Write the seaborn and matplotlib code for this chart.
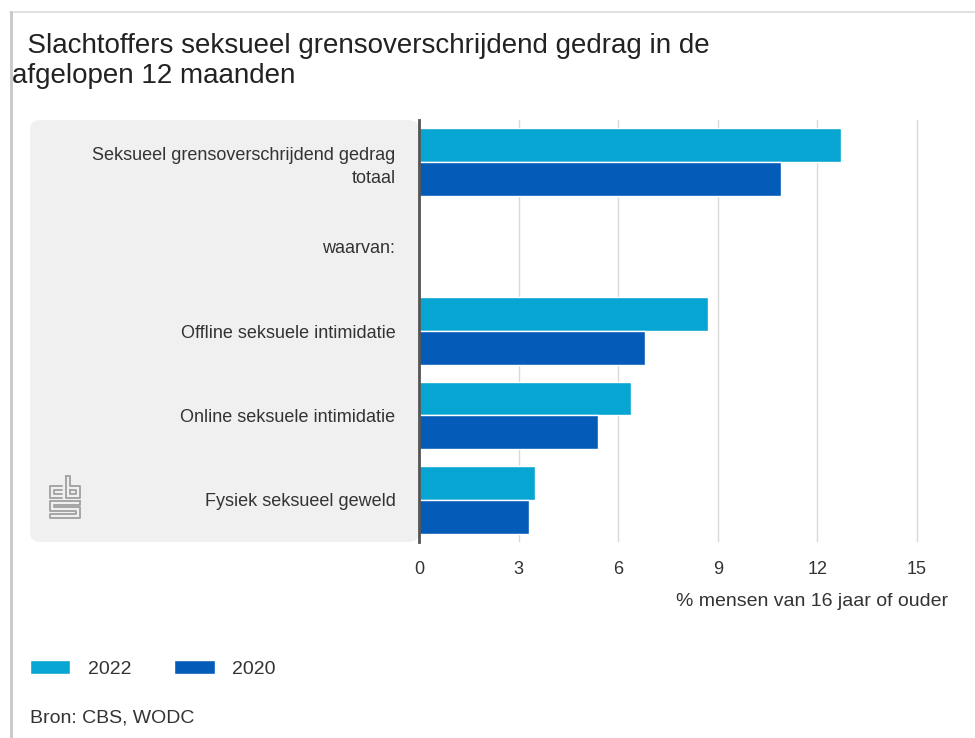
import numpy as np
import pandas as pd
import seaborn as sns
import matplotlib
matplotlib.use("Agg")
import matplotlib.pyplot as plt
from matplotlib.patches import FancyBboxPatch
from matplotlib.lines import Line2D

categories = ["Seksueel grensoverschrijdend gedrag\ntotaal", "waarvan:",
              "Offline seksuele intimidatie", "Online seksuele intimidatie",
              "Fysiek seksueel geweld"]
years = ["2022", "2020"]
values_2022 = [12.7, np.nan, 8.7, 6.4, 3.5]
values_2020 = [10.9, np.nan, 6.8, 5.4, 3.3]
xticks = [0, 3, 6, 9, 12, 15]
colors = {"2022": "#07a5d1", "2020": "#055bb8"}

df = pd.DataFrame({
    "categorie": categories * 2,
    "jaar": ["2022"] * len(categories) + ["2020"] * len(categories),
    "waarde": values_2022 + values_2020,
})

sns.set_theme(style="white")
plt.rcParams["font.family"] = ["Liberation Sans", "DejaVu Sans"]
txt = "#333333"

W, H = 975, 738
fig = plt.figure(figsize=(W / 100, H / 100), dpi=100)

def fx(px):
    return px / W

def fy(py):
    return 1 - py / H

# screenshot frame
fig.add_artist(Line2D([fx(10), fx(975)], [fy(12), fy(12)], color="#dcdcdc", lw=1.2))
fig.add_artist(Line2D([fx(11), fx(11)], [fy(12), fy(738)], color="#c8c8c8", lw=2))

# gray panel
panel = FancyBboxPatch((fx(30), fy(542)), fx(419) - fx(30), fy(120) - fy(542),
                       boxstyle="round,pad=0,rounding_size=0.012",
                       transform=fig.transFigure, facecolor="#f0f0f0",
                       edgecolor="none", zorder=-1)
fig.add_artist(panel)

ax = fig.add_axes([fx(419), fy(542), fx(975) - fx(419), fy(120) - fy(542)])
ax.set_facecolor("none")
sns.barplot(data=df, y="categorie", x="waarde", hue="jaar", order=categories,
            hue_order=years, palette=colors, orient="h", width=0.8, saturation=1,
            edgecolor="white", linewidth=1, ax=ax, legend=True)

ax.set_xlim(0, 16.75)
ax.set_ylim(4.5, -0.5)
ax.set_xticks(xticks)
ax.set_xticklabels([str(t) for t in xticks], fontsize=13, color=txt)
ax.tick_params(axis="x", length=0, pad=14)
ax.tick_params(axis="y", length=0, pad=17, labelsize=13, labelcolor=txt)
for lab in ax.get_yticklabels():
    lab.set_multialignment("right")
    lab.set_linespacing(1.45)
ax.grid(axis="x", color="#d9d9d9", lw=1)
ax.set_axisbelow(True)
for s in ["top", "right", "bottom"]:
    ax.spines[s].set_visible(False)
ax.spines["left"].set_color("#555555")
ax.spines["left"].set_linewidth(2)
ax.spines["left"].set_zorder(5)
ax.set_ylabel("")
ax.set_xlabel("")

fig.text(fx(948), fy(602), "% mensen van 16 jaar of ouder", ha="right", va="center",
         fontsize=14, color=txt)

# legend
handles, labels = ax.get_legend_handles_labels()
ax.get_legend().remove()
fig.legend(handles, labels, loc="center left", bbox_to_anchor=(fx(12), fy(669)),
           ncol=2, frameon=False, fontsize=14, handlelength=2.1, handleheight=0.75,
           handletextpad=0.9, columnspacing=2.2, labelcolor=txt)

fig.text(fx(30), fy(718), "Bron: CBS, WODC", ha="left", va="center", fontsize=14, color=txt)

# title
fig.text(fx(12), fy(61), "  Slachtoffers seksueel grensoverschrijdend gedrag in de\nafgelopen 12 maanden",
         ha="left", va="center", fontsize=20, color="#222222", linespacing=1.2)

# cbs logo (outline drawing)
lc = "#a0a0a0"
segs = [
    [(62, 486), (50, 486), (50, 498), (62, 498)],
    [(62, 490), (54, 490), (54, 494), (62, 494)],
    [(66, 476), (66, 498), (80, 498), (80, 486), (70, 486), (70, 476), (66, 476)],
    [(70, 490), (76, 490), (76, 494), (70, 494), (70, 490)],
    [(80, 501), (50, 501), (50, 511), (76, 511), (76, 514), (50, 514), (50, 518),
     (80, 518), (80, 507), (54, 507), (54, 505), (80, 505), (80, 501)],
]
for seg in segs:
    xs = [fx(p[0]) for p in seg]
    ys = [fy(p[1]) for p in seg]
    fig.add_artist(Line2D(xs, ys, color=lc, lw=1.3))

fig.savefig("out.png", dpi=100)
